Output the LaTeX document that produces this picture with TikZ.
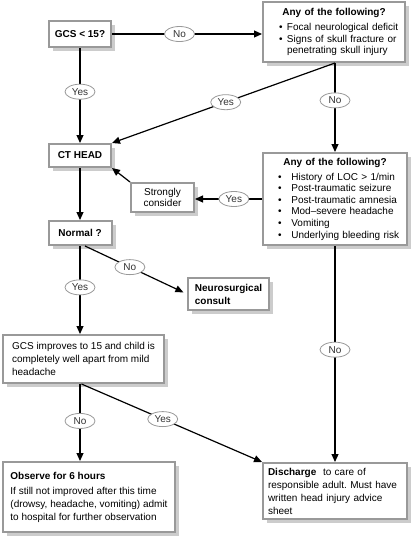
\documentclass[tikz,border=0pt]{standalone}
\usepackage{fontspec}
\setmainfont{Liberation Sans}
\usetikzlibrary{arrows.meta,shapes.geometric,shadows}
\newcommand{\bul}[1][8pt]{\makebox[#1][l]{\textbullet}}
\tikzset{
  dbox/.style={draw=black!40, line width=2pt, fill=white, inner sep=0pt, drop shadow={shadow xshift=4pt, shadow yshift=-4pt, fill=black!20, opacity=1}, font=\fontsize{10}{13}\selectfont},
  dbold/.style={dbox, align=center, font=\fontsize{10}{13}\selectfont\bfseries},
  dleft/.style={dbox, align=left},
  dlist/.style={dbox, align=left, inner xsep=4pt, font=\fontsize{10}{11.6}\selectfont},
  doval/.style={ellipse, draw=black!40, line width=0.8pt, fill=white, inner sep=0pt, minimum width=30pt, minimum height=15pt, text=black!80, font=\fontsize{10}{12}\selectfont},
  darrow/.style={-{Triangle[length=8pt,width=7pt]}, line width=1.2pt}
}
\begin{document}
\begin{tikzpicture}[x=1pt,y=-1pt]
\useasboundingbox (0,0) rectangle (413,536);

\node[dbold, minimum width=62pt, minimum height=26pt] (gcs) at (80,34) {GCS < 15?};
\node[dlist, text width=134pt, minimum height=60pt] (any1) at (334,32)
  {\makebox[\linewidth]{\bfseries Any of the following?}\\[3.4pt]
   \hspace*{12pt}\bul Focal neurological deficit\\
   \hspace*{12pt}\bul Signs of skull fracture or\\
   \hspace*{20pt}penetrating skull injury};
\node[dbold, minimum width=62pt, minimum height=23pt] (ct) at (80,155.5) {CT HEAD};
\node[dlist, text width=136pt, minimum height=92pt] (any2) at (335,199)
  {\makebox[\linewidth]{\bfseries Any of the following?}\\[3.4pt]
   \hspace*{11pt}\bul[10pt] History of LOC > 1/min\\
   \hspace*{11pt}\bul[10pt] Post-traumatic seizure\\
   \hspace*{11pt}\bul[10pt] Post-traumatic amnesia\\
   \hspace*{11pt}\bul[10pt] Mod--severe headache\\
   \hspace*{11pt}\bul[10pt] Vomiting\\
   \hspace*{11pt}\bul[10pt] Underlying bleeding risk};
\node[dbox, align=center, minimum width=63pt, minimum height=29pt, font=\fontsize{10}{11.5}\selectfont] (strong) at (162.5,197.5) {Strongly\\consider};
\node[dbold, minimum width=63pt, minimum height=24pt] (normal) at (80,233) {Normal ?};
\node[dleft, minimum width=81pt, minimum height=32pt, font=\fontsize{10}{13}\selectfont\bfseries] (neuro) at (228.5,294) {Neurosurgical\\consult};
\node[dleft, minimum width=161pt, minimum height=48pt] (improve) at (83.5,359)
  {GCS improves to 15 and child is\\completely well apart from mild\\headache};
\node[dleft, minimum width=172pt, minimum height=70pt] (observe) at (89,497)
  {\textbf{Observe for 6 hours}\\[2pt]If still not improved after this time\\(drowsy, headache, vomiting) admit\\to hospital for further observation};
\node[dleft, text width=134pt, inner xsep=5pt, minimum height=56pt] (discharge) at (335,491)
  {\textbf{Discharge}~ to care of\\responsible adult.\ Must have\\written head injury advice\\sheet};

\draw[darrow] (gcs.east) -- node[doval, pos=0.45] {No} (gcs.east -| any1.west);
\draw[darrow] (gcs.south) -- node[doval, pos=0.46] {Yes} (ct.north);
\draw[darrow] (any1.south -| any2.north) -- node[doval, pos=0.49] {Yes} (ct.north east);
\draw[darrow] (any1.south -| any2.north) -- node[doval, pos=0.42] {No} (any2.north);
\draw[darrow] (any2.west) -- node[doval, pos=0.42] {Yes} (any2.west -| strong.east);
\draw[darrow] (strong.north west) -- (ct.south east);
\draw[darrow] (ct.south) -- (normal.north);
\draw[darrow, shorten >=4pt] ([xshift=5pt]normal.south) -- node[doval, pos=0.44] {No} (neuro.west);
\draw[darrow] (normal.south) -- node[doval, pos=0.47] {Yes} (normal.south |- improve.north);
\draw[darrow] (any2.south) -- node[doval, pos=0.48] {No} (discharge.north);
\draw[darrow] (improve.south -| normal.south) -- node[doval, pos=0.48] {No} (observe.north -| normal.south);
\draw[darrow] ([xshift=-2pt]improve.south) -- node[doval, pos=0.45] {Yes} (discharge.north west);
\end{tikzpicture}
\end{document}
